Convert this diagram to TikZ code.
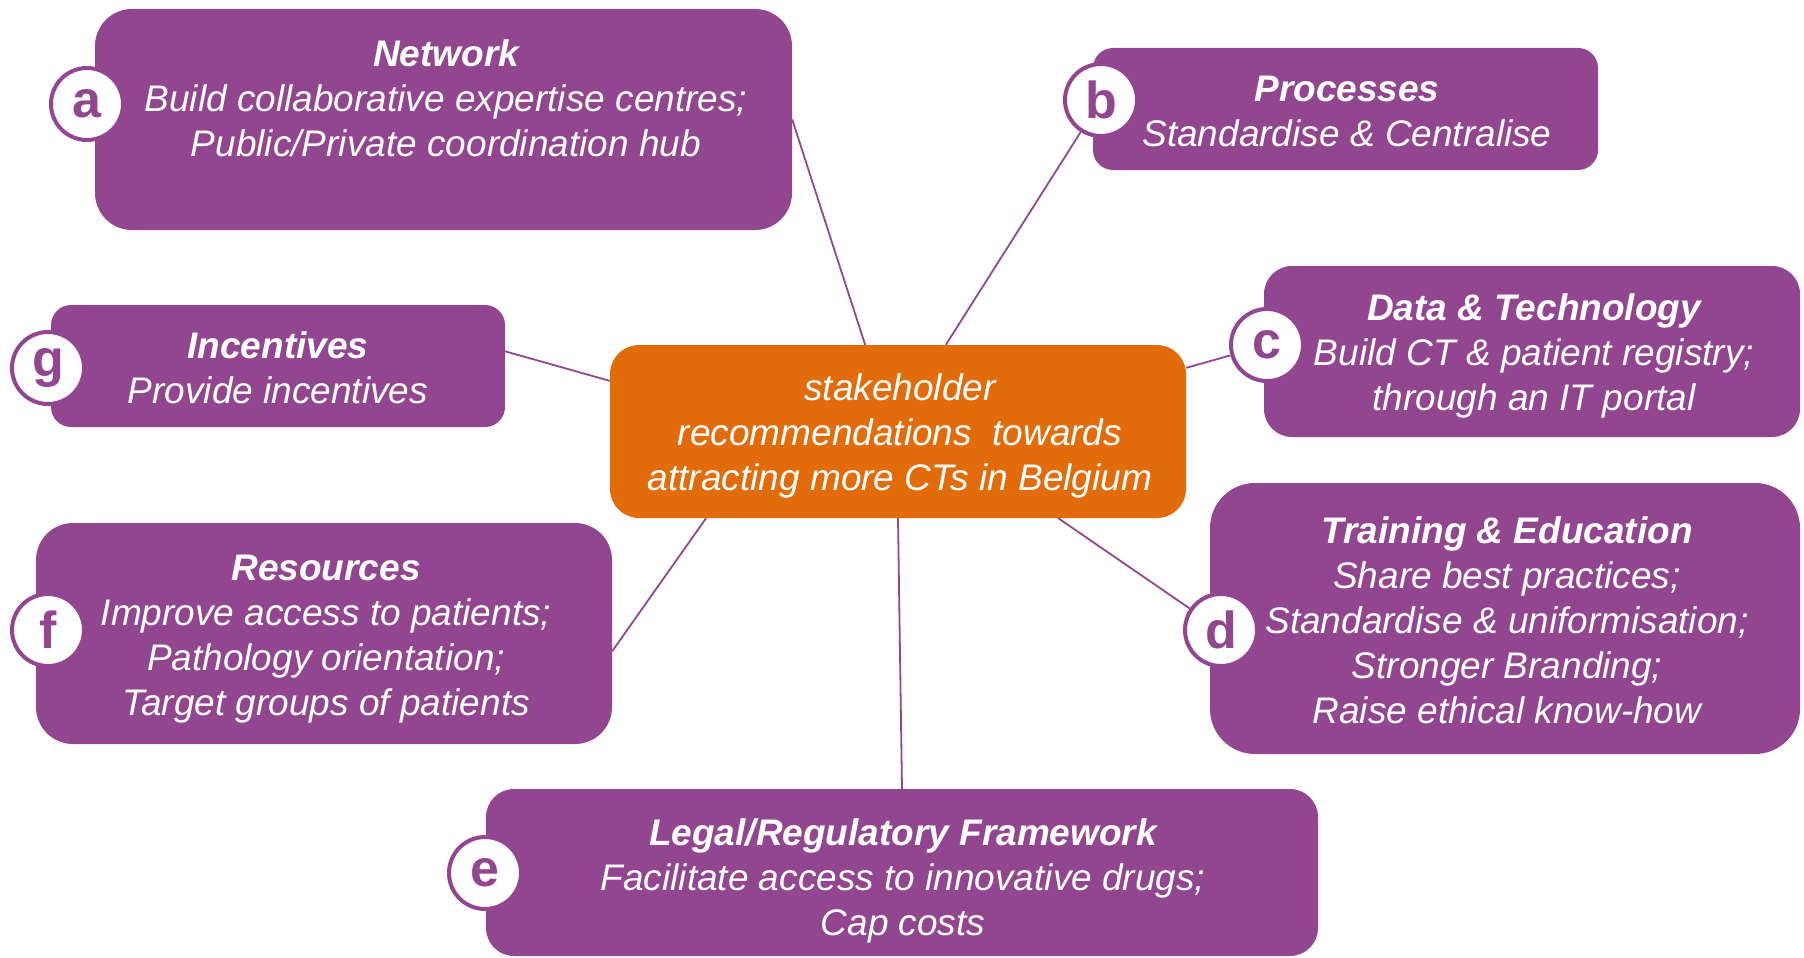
\documentclass[tikz,border=0pt]{standalone}
\usepackage{fontspec}
\setmainfont{Liberation Sans}
\usetikzlibrary{calc}
\definecolor{boxpurple}{RGB}{146,70,143}
\definecolor{ctrorange}{RGB}{227,108,10}
\tikzset{
  pbox/.style={draw=none, fill=boxpurple, rectangle, inner sep=0pt},
  ptext/.style={text=white, align=center, inner sep=0pt, font=\fontsize{37}{45}\selectfont\itshape},
  letter/.style={circle, draw=boxpurple, line width=4pt, fill=white, minimum size=72pt, inner sep=0pt,
    text=boxpurple, font=\fontsize{52}{52}\selectfont\bfseries},
  conn/.style={draw=boxpurple, line width=1.8pt}
}
\begin{document}
\begin{tikzpicture}[x=1pt,y=-1pt]
\useasboundingbox (0,0) rectangle (1804,958);
% boxes
\node[pbox, rounded corners=37pt, minimum width=697pt, minimum height=221pt] (ba) at (443.5,119.5) {};
\node[pbox, rounded corners=20pt, minimum width=505pt, minimum height=122pt] (bb) at (1345.5,109) {};
\node[pbox, rounded corners=28pt, minimum width=536pt, minimum height=171pt] (bc) at (1532,351.5) {};
\node[pbox, rounded corners=45pt, minimum width=590pt, minimum height=271pt] (bd) at (1505,618.5) {};
\node[pbox, rounded corners=28pt, minimum width=832pt, minimum height=167pt] (be) at (902,872.5) {};
\node[pbox, rounded corners=37pt, minimum width=576pt, minimum height=221pt] (bf) at (324,633.5) {};
\node[pbox, rounded corners=20pt, minimum width=454pt, minimum height=122pt] (bg) at (278,366) {};
\node[draw=none, fill=ctrorange, rectangle, rounded corners=29pt, minimum width=576pt, minimum height=173pt] (ctr) at (898,431.5) {};
% letter circles
\node[letter] (la) at (87,104) {a};
\node[letter] (lb) at (1101,100) {b};
\node[letter] (lc) at (1267,345) {c};
\node[letter] (ld) at (1221,630) {d};
\node[letter] (le) at (485,873) {e};
\node[letter] (lf) at (48,630) {f};
\node[letter] (lg) at (48,368) {g};
% connectors
\draw[conn] ($(ctr.north west)!0.443!(ctr.north east)$) -- (ba.east);
\draw[conn] ($(ctr.north west)!0.583!(ctr.north east)$) -- (lb);
\draw[conn] ($(ctr.north east)!0.133!(ctr.south east)$) -- (lc);
\draw[conn] ($(ctr.south west)!0.778!(ctr.south east)$) -- (ld);
\draw[conn] (ctr.south) -- (be.north);
\draw[conn] ($(ctr.south west)!0.167!(ctr.south east)$) -- ($(bf.north east)!0.58!(bf.south east)$);
\draw[conn] ($(ctr.north west)!0.208!(ctr.south west)$) -- ($(bg.north east)!0.38!(bg.south east)$);
% texts
\node[ptext] (ta) at (446,98) {\textbf{Network}\\Build collaborative expertise centres;\\Public/Private coordination hub};
\node[ptext] (tb) at (1347,111) {\textbf{Processes}\\Standardise \& Centralise};
\node[ptext] (tc) at (1534,356) {\textbf{Data \& Technology}\\Build CT \& patient registry;\\through an IT portal};
\node[ptext] (td) at (1507,620) {\textbf{Training \& Education}\\Share best practices;\\Standardise \& uniformisation;\\Stronger Branding;\\Raise ethical know-how};
\node[ptext] (te) at (903,881) {\textbf{Legal/Regulatory Framework}\\Facilitate access to innovative drugs;\\Cap costs};
\node[ptext] (tf) at (326,639) {\textbf{Resources}\\Improve access to patients;\\Pathology orientation;\\Target groups of patients};
\node[ptext] (tg) at (278,367.5) {\textbf{Incentives}\\Provide incentives};
\node[ptext] (tctr) at (900,436) {stakeholder\\recommendations\ \ towards\\attracting more CTs in Belgium};
\end{tikzpicture}
\end{document}
